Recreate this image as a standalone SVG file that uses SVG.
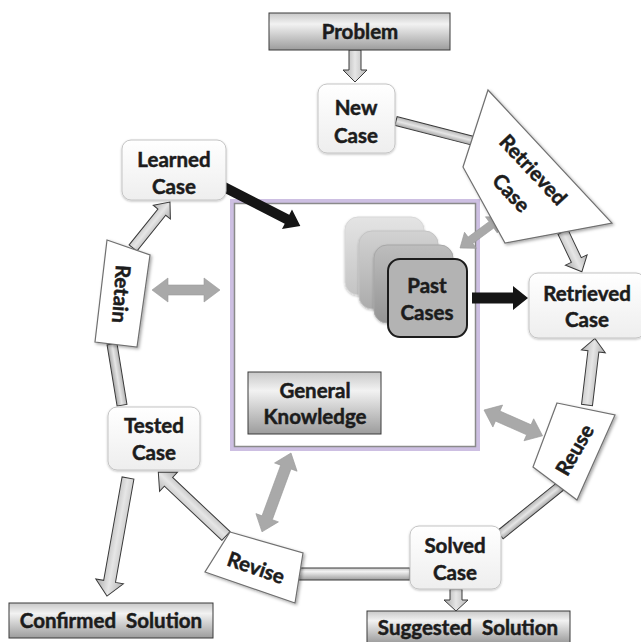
<svg xmlns="http://www.w3.org/2000/svg" width="641" height="642" viewBox="0 0 641 642">
  <defs>
    <linearGradient id="barGrad" x1="0" y1="0" x2="0" y2="1">
      <stop offset="0" stop-color="#c8c8c8"/>
      <stop offset="0.3" stop-color="#f2f2f2"/>
      <stop offset="1" stop-color="#9c9c9c"/>
    </linearGradient>
    <linearGradient id="caseGrad" x1="0" y1="0" x2="0" y2="1">
      <stop offset="0" stop-color="#ffffff"/>
      <stop offset="1" stop-color="#eeeeee"/>
    </linearGradient>
    <linearGradient id="arrowGrad" x1="0" y1="0" x2="0" y2="1">
      <stop offset="0" stop-color="#b4b4b4"/>
      <stop offset="0.5" stop-color="#e6e6e6"/>
      <stop offset="1" stop-color="#a8a8a8"/>
    </linearGradient>
    <linearGradient id="card1" x1="0" y1="0" x2="0" y2="1">
      <stop offset="0" stop-color="#e4e4e4"/>
      <stop offset="1" stop-color="#c4c4c4"/>
    </linearGradient>
    <linearGradient id="card2" x1="0" y1="0" x2="0" y2="1">
      <stop offset="0" stop-color="#d2d2d2"/>
      <stop offset="1" stop-color="#acacac"/>
    </linearGradient>
    <linearGradient id="card3" x1="0" y1="0" x2="0" y2="1">
      <stop offset="0" stop-color="#bdbdbd"/>
      <stop offset="1" stop-color="#949494"/>
    </linearGradient>
    <filter id="shadow" x="-20%" y="-20%" width="140%" height="140%">
      <feDropShadow dx="1.5" dy="1.5" stdDeviation="1.5" flood-color="#000" flood-opacity="0.35"/>
    </filter>
    <filter id="soft" x="-20%" y="-20%" width="140%" height="140%">
      <feDropShadow dx="0" dy="1" stdDeviation="1.2" flood-color="#000" flood-opacity="0.25"/>
    </filter>
  </defs>
  <style>
    text { font-family: Lato, "Open Sans", "Liberation Sans", sans-serif; font-weight: bold; font-size: 20.5px; fill: #1c1c1c; stroke: #1c1c1c; stroke-width: 0.5; text-anchor: middle; }
    .bar { fill: url(#barGrad); stroke: #3a3a3a; stroke-width: 1; }
    .case { fill: url(#caseGrad); stroke: #c4c4c4; stroke-width: 1; filter: url(#soft); }
    .label { fill: #ffffff; stroke: #707070; stroke-width: 1.2; filter: url(#shadow); }
    .arrow { fill: url(#arrowGrad); stroke: #3a3a3a; stroke-width: 1; }
    .dbl { fill: #a9a9a9; stroke: #9a9a9a; stroke-width: 0.6; }
    .blk { fill: #151515; }
  </style>

  <!-- knowledge base frame -->
  <g id="knowledge-base">
    <rect x="232" y="201" width="246" height="248" fill="none" stroke="#cdbfe2" stroke-width="4"/>
    <rect x="234.5" y="203.5" width="241" height="243" fill="none" stroke="#8a8a8a" stroke-width="1.5"/>
  </g>

  <!-- connectors -->
  <g id="connectors">
    <path class="arrow" transform="translate(355,50) rotate(90)" d="M0,-6 H20 V-12 L32,0 L20,12 V6 H0Z"/>
    <path class="arrow" transform="translate(396,121) rotate(14.4)" d="M0,-4.5 H80 V4.5 H0Z"/>
    <path class="arrow" transform="translate(563,232) rotate(64.6)" d="M0,-5.5 H31 V-12 L44,0 L31,12 V5.5 H0Z"/>
    <path class="blk" transform="translate(472,298)" d="M0,-5.5 H41 V-12 L56,0 L41,12 V5.5 H0Z"/>
    <path class="dbl" transform="translate(460,248) rotate(-36.4)" d="M0,0 L13,-10 V-4 H39 V-10 L52,0 L39,10 V4 H13 V10Z"/>
    <path class="blk" transform="translate(222,186) rotate(27.1)" d="M0,-5 H73 V-11 L88,0 L73,11 V5 H0Z"/>
    <path class="arrow" transform="translate(133,248) rotate(-51.2)" d="M0,-5 H46 V-11 L59,0 L46,11 V5 H0Z"/>
    <path class="dbl" transform="translate(152,290)" d="M0,0 L16,-12 V-5 H52 V-12 L68,0 L52,12 V5 H16 V12Z"/>
    <path class="arrow" transform="translate(112,344) rotate(80.7)" d="M0,-5 H62 V5 H0Z"/>
    <path class="arrow" transform="translate(128,478) rotate(100.1)" d="M0,-6 H105 V-14 L120,0 L105,14 V6 H0Z"/>
    <path class="arrow" transform="translate(226,536) rotate(-136.7)" d="M0,-6 H79 V-13 L93,0 L79,13 V6 H0Z"/>
    <path class="dbl" transform="translate(291,453) rotate(110.2)" d="M0,0 L15,-12 V-5.5 H69 V-12 L84,0 L69,12 V5.5 H15 V12Z"/>
    <rect class="bar" x="296" y="568" width="114" height="12"/>
    <path class="arrow" transform="translate(500,535) rotate(-38.9)" d="M0,-5 H80 V5 H0Z"/>
    <path class="arrow" transform="translate(456,589) rotate(90)" d="M0,-6 H11 V-12 L22,0 L11,12 V6 H0Z"/>
    <path class="arrow" transform="translate(587,405) rotate(-83.2)" d="M0,-5.5 H54 V-12 L67,0 L54,12 V5.5 H0Z"/>
    <path class="dbl" transform="translate(484,410) rotate(23.8)" d="M0,0 L15,-12 V-5.5 H49 V-12 L64,0 L49,12 V5.5 H15 V12Z"/>
  </g>

  <!-- solution and input bars -->
  <g id="problem">
    <rect class="bar" x="269" y="13" width="181" height="37"/>
    <text x="360" y="39">Problem</text>
  </g>
  <g id="confirmed-solution">
    <rect class="bar" x="9" y="603" width="204" height="35"/>
    <text x="111" y="628" xml:space="preserve">Confirmed  Solution</text>
  </g>
  <g id="suggested-solution">
    <rect class="bar" x="367" y="611" width="203" height="32"/>
    <text x="468" y="635" xml:space="preserve">Suggested  Solution</text>
  </g>

  <!-- case boxes -->
  <g id="new-case">
    <rect class="case" x="318" y="84" width="77" height="69" rx="9"/>
    <text x="356" y="115">New</text>
    <text x="356" y="143">Case</text>
  </g>
  <g id="learned-case">
    <rect class="case" x="122" y="140" width="104" height="60" rx="9"/>
    <text x="174" y="167">Learned</text>
    <text x="174" y="194">Case</text>
  </g>
  <g id="retrieved-case">
    <rect class="case" x="529" y="273" width="116" height="65" rx="9"/>
    <text x="587" y="301">Retrieved</text>
    <text x="587" y="327">Case</text>
  </g>
  <g id="tested-case">
    <rect class="case" x="108" y="407" width="92" height="63" rx="9"/>
    <text x="154" y="433">Tested</text>
    <text x="154" y="460">Case</text>
  </g>
  <g id="solved-case">
    <rect class="case" x="410" y="526" width="91" height="63" rx="9"/>
    <text x="455" y="553">Solved</text>
    <text x="455" y="580">Case</text>
  </g>

  <!-- process step labels -->
  <g id="retrieve-step">
    <polygon class="label" points="488,90 612,223 505,243 463,167"/>
    <text transform="translate(533,170) rotate(47)" y="7">Retrieved</text>
    <text transform="translate(511,193) rotate(47)" y="7">Case</text>
  </g>
  <g id="retain-step">
    <polygon class="label" points="107,240 150,255 137,347 95,342"/>
    <text transform="translate(121,294) rotate(94)" y="7">Retain</text>
  </g>
  <g id="revise-step">
    <polygon class="label" points="230,532 303,553 295,603 205,572"/>
    <text transform="translate(256,568) rotate(19)" y="7">Revise</text>
  </g>
  <g id="reuse-step">
    <polygon class="label" points="557,403 615,415 577,500 533,467"/>
    <text transform="translate(575,450) rotate(-60)" y="7">Reuse</text>
  </g>

  <!-- stacked past cases -->
  <g id="past-cases">
    <rect x="345" y="217" width="79" height="78" rx="13" fill="url(#card1)" stroke="#d8d8d8" filter="url(#soft)"/>
    <rect x="359" y="231" width="79" height="78" rx="13" fill="url(#card2)" stroke="#c4c4c4" filter="url(#soft)"/>
    <rect x="374" y="245" width="79" height="78" rx="13" fill="url(#card3)" stroke="#a8a8a8" filter="url(#soft)"/>
    <rect x="388" y="259" width="79" height="78" rx="12" fill="#b3b3b3" stroke="#1c1c1c" stroke-width="2"/>
    <text x="427" y="293">Past</text>
    <text x="427" y="320">Cases</text>
  </g>

  <g id="general-knowledge">
    <rect class="bar" x="248" y="372" width="133" height="62"/>
    <text x="315" y="398">General</text>
    <text x="315" y="424">Knowledge</text>
  </g>
</svg>
